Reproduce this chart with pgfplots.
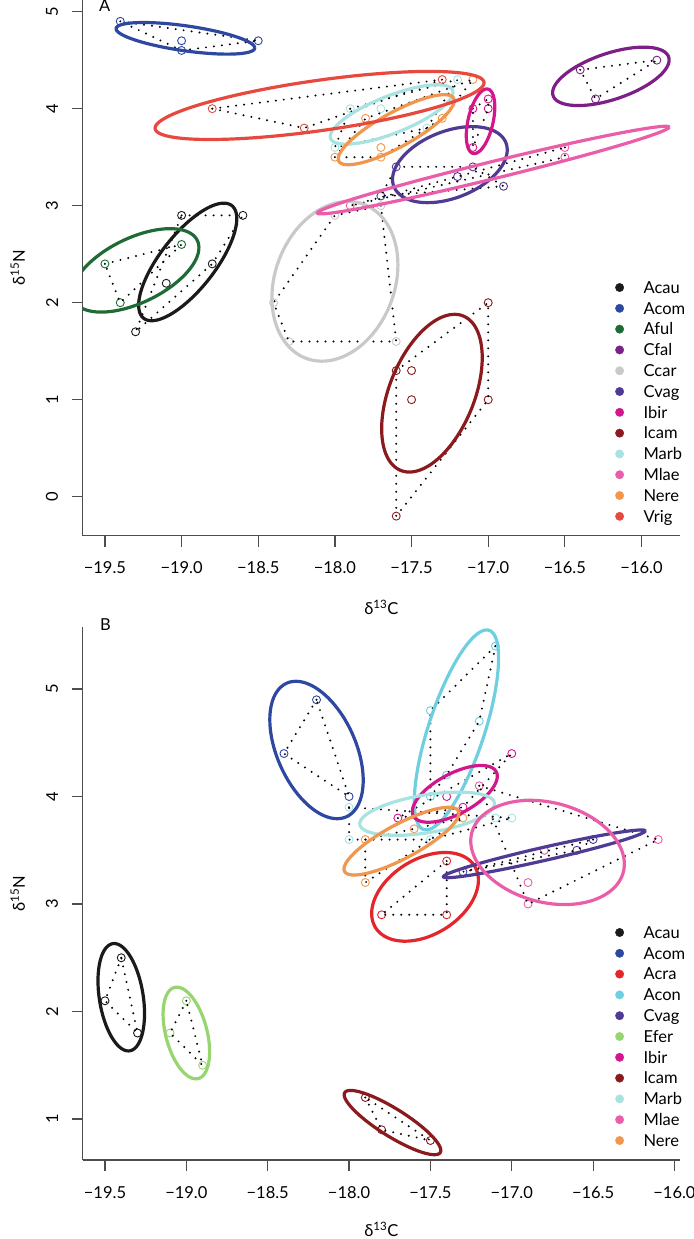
\documentclass[border=0pt]{standalone}
\usepackage{fontspec}
\setmainfont{Lato}
\usepackage{pgfplots}
\pgfplotsset{compat=1.18}
\definecolor{axgray}{HTML}{4D4D4D}
\definecolor{acau}{HTML}{1A1A1A}
\definecolor{acom}{HTML}{2E48A2}
\definecolor{aful}{HTML}{1F6B36}
\definecolor{cfal}{HTML}{7C1F86}
\definecolor{ccar}{HTML}{C9C9C9}
\definecolor{cvag}{HTML}{4F3B93}
\definecolor{ibir}{HTML}{D4168C}
\definecolor{icam}{HTML}{8A1A1E}
\definecolor{marb}{HTML}{A9E3E1}
\definecolor{mlae}{HTML}{EA5EA9}
\definecolor{nere}{HTML}{F0974D}
\definecolor{vrig}{HTML}{E8493F}
\definecolor{acra}{HTML}{E2262B}
\definecolor{acon}{HTML}{6FCEE0}
\definecolor{efer}{HTML}{97D571}
\newcommand\f{\fontsize{16.5bp}{20bp}\selectfont}
\newcommand\pts[2]{\addplot[forget plot, only marks, mark=o, mark size=4bp, mark options={line width=0.9bp, solid}, color=#1] coordinates {#2};}
\newcommand\hull[1]{\addplot[forget plot, no marks, black, line width=2.2bp, line cap=round, dash pattern=on 0bp off 8bp] coordinates {#1};}
\newcommand\sea[6]{\addplot[forget plot, no marks, color=#1, line width=3.2bp, domain=0:360, samples=121, variable=\t] ({#2+(#4)*cos(\t)}, {#3+(#6)*cos(\t)+sqrt((#5)^2-(#6)^2)*sin(\t)});}
\pgfplotsset{
 panel/.style={
  scale only axis, width=597.3bp,
  axis x line*=bottom, axis y line*=left,
  axis line style={-, axgray, line width=1.2bp},
  tick style={axgray, line width=1.2bp},
  tick align=outside, major tick length=11bp,
  xtick={-19.5,-19,-18.5,-18,-17.5,-17,-16.5,-16},
  xticklabels={−19.5,−19.0,−18.5,−18.0,−17.5,−17.0,−16.5,−16.0},
  /pgf/number format/assume math mode=true,
  xticklabel style={font=\f, anchor=north, inner sep=0pt},
  yticklabel style={font=\f, rotate=90, anchor=south, inner sep=0pt},
  xticklabel shift=15bp, yticklabel shift=13.4bp,
  xlabel={δ\textsuperscript{13}C}, ylabel={δ\textsuperscript{15}N},
  every axis y label/.style={at={(axis description cs:-0.0966,0.5)}, rotate=90, anchor=base, font=\f, inner sep=0pt},
  clip mode=individual,
  legend style={draw=none, fill=none, inner sep=0pt, font=\f, row sep=7.8bp,
    nodes={inner sep=0pt, text height=13bp, text depth=0bp},
    cells={anchor=base west}},
  legend image code/.code={\fill (0bp,5.85bp) circle (4.2bp); \path[draw=none, fill=none] (-4.2bp,5.85bp) -- (24bp,5.85bp);},
 }
}
\begin{document}
\begin{tikzpicture}
\useasboundingbox (0,0) rectangle (694bp,-1239bp);
% ---------------- Panel A ----------------
\begin{axis}[panel, at={(82.7bp,-535.7bp)}, anchor=south west, height=535.7bp,
  xmin=-19.645, xmax=-15.749, ymin=-0.402, ymax=5.12, ytick={0,1,2,3,4,5},
  every axis x label/.style={at={(axis description cs:0.5,-0.148)}, anchor=base, font=\f, inner sep=0pt},
  legend style={at={(0.8912,0.477)}, anchor=north west}]
% points
\pts{acau}{(-19.0,2.9) (-18.6,2.9) (-18.8,2.4) (-19.1,2.2) (-19.3,1.7)}
\pts{acom}{(-19.4,4.9) (-19.0,4.7) (-19.0,4.6) (-18.5,4.7)}
\pts{aful}{(-19.5,2.4) (-19.0,2.6) (-19.4,2.0)}
\pts{cfal}{(-16.4,4.4) (-15.9,4.5) (-16.3,4.1)}
\pts{ccar}{(-18.4,2.0) (-18.3,1.6) (-17.6,1.6) (-17.7,3.0) (-18.0,2.9)}
\pts{cvag}{(-17.6,3.4) (-17.1,3.4) (-17.2,3.3) (-16.9,3.2) (-17.7,3.1)}
\pts{ibir}{(-17.0,4.1) (-17.0,4.0) (-17.1,4.0) (-17.1,3.6)}
\pts{icam}{(-17.6,1.3) (-17.5,1.3) (-17.5,1.0) (-17.0,2.0) (-17.0,1.0) (-17.6,-0.2)}
\pts{marb}{(-17.9,4.0) (-18.0,3.6) (-17.7,4.0) (-17.2,4.3) (-17.4,3.8)}
\pts{mlae}{(-16.5,3.6) (-16.5,3.5) (-17.9,3.0)}
\pts{nere}{(-18.0,3.5) (-17.8,3.9) (-17.3,3.9) (-17.7,3.6) (-17.7,3.5) (-17.1,4.3)}
\pts{vrig}{(-18.8,4.0) (-18.2,3.8) (-17.3,4.3)}
% hulls
\hull{(-19.0,2.9) (-18.6,2.9) (-18.8,2.4) (-19.3,1.7) (-19.0,2.9)}
\hull{(-19.4,4.9) (-18.5,4.7) (-19.0,4.6) (-19.4,4.9)}
\hull{(-19.5,2.4) (-19.0,2.6) (-19.4,2.0) (-19.5,2.4)}
\hull{(-16.4,4.4) (-15.9,4.5) (-16.3,4.1) (-16.4,4.4)}
\hull{(-17.7,3.0) (-18.0,2.9) (-18.4,2.0) (-18.3,1.6) (-17.6,1.6) (-17.7,3.0)}
\hull{(-17.6,3.4) (-17.1,3.4) (-16.9,3.2) (-17.7,3.1) (-17.6,3.4)}
\hull{(-17.1,4.0) (-17.0,4.1) (-17.0,4.0) (-17.1,3.6) (-17.1,4.0)}
\hull{(-17.6,1.3) (-17.0,2.0) (-17.0,1.0) (-17.6,-0.2) (-17.6,1.3)}
\hull{(-17.9,4.0) (-17.2,4.3) (-17.4,3.8) (-18.0,3.6) (-17.9,4.0)}
\hull{(-16.5,3.6) (-16.5,3.5) (-17.9,3.0) (-16.5,3.6)}
\hull{(-18.0,3.5) (-17.8,3.9) (-17.1,4.3) (-17.3,3.9) (-17.7,3.5) (-18.0,3.5)}
\hull{(-18.8,4.0) (-18.2,3.8) (-17.3,4.3) (-18.8,4.0)}
% ellipses: colour, cx, cy, half-width, half-height, y-offset at rightmost point
\sea{acau}{-18.96}{2.42}{0.320}{0.606}{0.446}
\sea{acom}{-18.975}{4.725}{0.452}{0.163}{-0.0986}
\sea{aful}{-19.3}{2.333}{0.413}{0.430}{0.234}
\sea{cfal}{-16.2}{4.333}{0.380}{0.301}{0.169}
\sea{ccar}{-18.0}{2.22}{0.411}{0.823}{0.170}
\sea{cvag}{-17.25}{3.423}{0.374}{0.392}{0.152}
\sea{ibir}{-17.05}{3.87}{0.093}{0.333}{0.147}
\sea{icam}{-17.367}{1.067}{0.328}{0.813}{0.366}
\sea{marb}{-17.63}{3.94}{0.400}{0.306}{0.227}
\sea{mlae}{-16.967}{3.367}{1.147}{0.4515}{0.4423}
\sea{nere}{-17.6}{3.783}{0.378}{0.361}{0.299}
\sea{vrig}{-18.1}{4.033}{1.073}{0.351}{0.234}
\node[anchor=base, font=\f, inner sep=0pt] at (rel axis cs:0.0369,0.9782) {A};
\addlegendimage{color=acau}\addlegendentry{Acau}
\addlegendimage{color=acom}\addlegendentry{Acom}
\addlegendimage{color=aful}\addlegendentry{Aful}
\addlegendimage{color=cfal}\addlegendentry{Cfal}
\addlegendimage{color=ccar}\addlegendentry{Ccar}
\addlegendimage{color=cvag}\addlegendentry{Cvag}
\addlegendimage{color=ibir}\addlegendentry{Ibir}
\addlegendimage{color=icam}\addlegendentry{Icam}
\addlegendimage{color=marb}\addlegendentry{Marb}
\addlegendimage{color=mlae}\addlegendentry{Mlae}
\addlegendimage{color=nere}\addlegendentry{Nere}
\addlegendimage{color=vrig}\addlegendentry{Vrig}
\end{axis}
% ---------------- Panel B ----------------
\begin{axis}[panel, at={(82.7bp,-1160bp)}, anchor=south west, height=533.3bp,
  xmin=-19.637, xmax=-15.966, ymin=0.6186, ymax=5.58, ytick={1,2,3,4,5},
  every axis x label/.style={at={(axis description cs:0.5,-0.1435)}, anchor=base, font=\f, inner sep=0pt},
  legend style={at={(0.8912,0.4404)}, anchor=north west}]
\pts{acau}{(-19.4,2.5) (-19.5,2.1) (-19.3,1.8)}
\pts{acom}{(-18.2,4.9) (-18.4,4.4) (-18.0,4.0)}
\pts{acra}{(-17.4,3.4) (-17.8,2.9) (-17.4,2.9)}
\pts{acon}{(-17.1,5.4) (-17.5,4.8) (-17.2,4.7) (-17.4,4.2) (-17.5,4.0)}
\pts{cvag}{(-16.5,3.6) (-16.6,3.5) (-17.3,3.3)}
\pts{efer}{(-19.0,2.1) (-19.1,1.8) (-18.9,1.5)}
\pts{ibir}{(-17.0,4.4) (-17.4,4.0) (-17.3,3.9) (-17.7,3.8)}
\pts{icam}{(-17.9,1.2) (-17.8,0.9) (-17.5,0.8)}
\pts{marb}{(-18.0,3.9) (-18.0,3.6) (-17.5,3.6) (-17.1,3.8) (-17.0,3.8)}
\pts{mlae}{(-17.2,4.1) (-16.1,3.6) (-16.8,3.5) (-16.9,3.2) (-16.9,3.0)}
\pts{nere}{(-17.9,3.6) (-17.9,3.2) (-17.6,3.7) (-17.3,3.8)}
\hull{(-19.4,2.5) (-19.5,2.1) (-19.3,1.8) (-19.4,2.5)}
\hull{(-18.2,4.9) (-18.4,4.4) (-18.0,4.0) (-18.2,4.9)}
\hull{(-17.4,3.4) (-17.8,2.9) (-17.4,2.9) (-17.4,3.4)}
\hull{(-17.1,5.4) (-17.2,4.7) (-17.4,4.2) (-17.5,4.0) (-17.5,4.8) (-17.1,5.4)}
\hull{(-16.5,3.6) (-16.6,3.5) (-17.3,3.3) (-16.5,3.6)}
\hull{(-19.0,2.1) (-19.1,1.8) (-18.9,1.5) (-19.0,2.1)}
\hull{(-17.7,3.8) (-17.3,3.9) (-17.0,4.4) (-17.7,3.8)}
\hull{(-17.9,1.2) (-17.8,0.9) (-17.5,0.8) (-17.9,1.2)}
\hull{(-18.0,3.9) (-17.0,3.8) (-17.5,3.6) (-18.0,3.6) (-18.0,3.9)}
\hull{(-17.2,4.1) (-16.1,3.6) (-16.9,3.0) (-17.2,4.1)}
\hull{(-17.9,3.6) (-17.3,3.8) (-17.9,3.2) (-17.9,3.6)}
\sea{acau}{-19.4}{2.133}{0.143}{0.4995}{-0.152}
\sea{acom}{-18.2}{4.433}{0.287}{0.639}{-0.282}
\sea{acra}{-17.533}{3.067}{0.328}{0.4126}{0.155}
\sea{acon}{-17.34}{4.62}{0.259}{0.930}{0.667}
\sea{cvag}{-16.8}{3.467}{0.620}{0.222}{0.213}
\sea{efer}{-19.0}{1.8}{0.143}{0.4265}{-0.174}
\sea{ibir}{-17.35}{4.025}{0.261}{0.264}{0.164}
\sea{icam}{-17.733}{0.967}{0.297}{0.299}{-0.259}
\sea{marb}{-17.52}{3.84}{0.414}{0.201}{0.093}
\sea{mlae}{-16.78}{3.48}{0.472}{0.485}{-0.107}
\sea{nere}{-17.678}{3.585}{0.353}{0.315}{0.259}
\node[anchor=base, font=\f, inner sep=0pt] at (rel axis cs:0.0381,0.9938) {B};
\addlegendimage{color=acau}\addlegendentry{Acau}
\addlegendimage{color=acom}\addlegendentry{Acom}
\addlegendimage{color=acra}\addlegendentry{Acra}
\addlegendimage{color=acon}\addlegendentry{Acon}
\addlegendimage{color=cvag}\addlegendentry{Cvag}
\addlegendimage{color=efer}\addlegendentry{Efer}
\addlegendimage{color=ibir}\addlegendentry{Ibir}
\addlegendimage{color=icam}\addlegendentry{Icam}
\addlegendimage{color=marb}\addlegendentry{Marb}
\addlegendimage{color=mlae}\addlegendentry{Mlae}
\addlegendimage{color=nere}\addlegendentry{Nere}
\end{axis}
\end{tikzpicture}
\end{document}
